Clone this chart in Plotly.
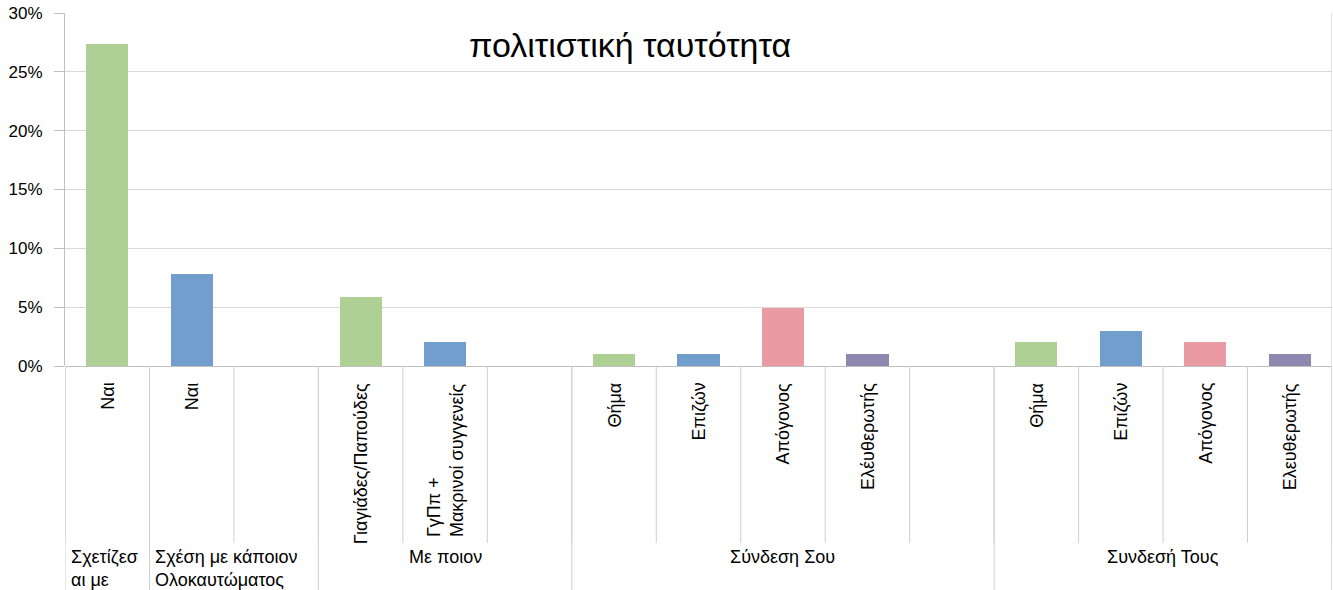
import plotly.graph_objects as go

# ---- data ----
sub_labels = ["Ναι", "Ναι", "", "Γιαγιάδες/Παπούδες", "ΓγΠπ +<br>Μακρινοί συγγενείς", "",
              "Θήμα", "Επιζών", "Απόγονος", "Ελέυθερωτής", "",
              "Θήμα", "Επιζών", "Απόγονος", "Ελευθερωτής"]
values = [27.4, 7.8, None, 5.9, 2.0, None,
          1.0, 1.0, 4.95, 1.0, None,
          2.0, 2.95, 2.0, 1.0]
group_names = ["Σχετίζεσ<br>αι με", "Σχέση με κάποιον<br>Ολοκαυτώματος", "Με ποιον", "Σύνδεση Σου", "Συνδεσή Τους"]
group_sizes = [1, 2, 3, 5, 4]
group_align = ["left", "left", "center", "center", "center"]
bar_colors = ["green", "blue", "green", "green", "blue", "green",
              "green", "blue", "pink", "purple", "green",
              "green", "blue", "pink", "purple"]
palette = {"green": "rgb(174,208,148)", "blue": "rgb(114,158,206)",
           "pink": "rgb(234,154,162)", "purple": "rgb(142,136,176)"}
y_ticks = [0, 5, 10, 15, 20, 25, 30]
title = "πολιτιστική ταυτότητα"

FONT = "Liberation Sans, Arial, sans-serif"
n = len(sub_labels)
xs = [i + 0.5 for i in range(n)]

fig = go.Figure()
fig.add_trace(go.Bar(
    x=xs, y=values, width=0.5,
    marker=dict(color=[palette[c] for c in bar_colors], line=dict(width=0)),
    hoverinfo="skip",
))

PLOT_H = 353.0
sub_y1 = -(543 - 366) / PLOT_H
grp_y1 = -(590 - 366) / PLOT_H
shapes = []
annotations = []

# sub-category separators and labels
for i in range(n + 1):
    shapes.append(dict(type="line", xref="x", yref="paper", x0=i, x1=i, y0=0, y1=sub_y1,
                       line=dict(color="#d0d0d0", width=1)))
for i, lab in enumerate(sub_labels):
    if lab:
        annotations.append(dict(x=xs[i], y=0, xref="x", yref="paper", text=lab,
                                textangle=-90, showarrow=False, xanchor="center", yanchor="top",
                                yshift=-15, font=dict(size=18, color="#000", family=FONT),
                                align="left"))

# group separators and labels
start = 0
bounds = [0]
for g, size in zip(group_names, group_sizes):
    start += size
    bounds.append(start)
for b in bounds:
    shapes.append(dict(type="line", xref="x", yref="paper", x0=b, x1=b, y0=0, y1=grp_y1,
                       line=dict(color="#d0d0d0", width=1)))
for gi, g in enumerate(group_names):
    a, b = bounds[gi], bounds[gi + 1]
    if group_align[gi] == "left":
        annotations.append(dict(x=a, y=0, xref="x", yref="paper", text=g, showarrow=False,
                                xanchor="left", yanchor="top", xshift=4, yshift=-179,
                                align="left", font=dict(size=18, color="#000", family=FONT)))
    else:
        annotations.append(dict(x=(a + b) / 2, y=0, xref="x", yref="paper", text=g, showarrow=False,
                                xanchor="center", yanchor="top", yshift=-179,
                                align="center", font=dict(size=18, color="#000", family=FONT)))

# right border
shapes.append(dict(type="line", xref="x", yref="paper", x0=n, x1=n, y0=1, y1=grp_y1,
                   line=dict(color="#d0d0d0", width=1)))

annotations.append(dict(x=(630 - 65) / 1267, y=1 - (45 - 13) / PLOT_H, xref="paper", yref="paper",
                        text=title, showarrow=False, xanchor="center", yanchor="middle",
                        font=dict(size=34, color="#000", family=FONT)))

fig.update_layout(
    width=1333, height=590,
    margin=dict(l=65, r=1, t=13, b=224, autoexpand=False),
    paper_bgcolor="white", plot_bgcolor="white",
    showlegend=False,
    bargap=0,
    font=dict(family=FONT, size=17, color="#000"),
    xaxis=dict(range=[0, n], showticklabels=False, showgrid=False, zeroline=False,
               showline=False, ticks="", fixedrange=True, automargin=False),
    yaxis=dict(range=[0, 30], tickvals=y_ticks, ticktext=[f"{v}%" for v in y_ticks],
               showgrid=True, gridcolor="#d9d9d9", gridwidth=1,
               zeroline=True, zerolinecolor="#c0c0c0", zerolinewidth=1,
               showline=True, linecolor="#c0c0c0", linewidth=1,
               ticks="outside", ticklen=10, tickcolor="#c0c0c0", automargin=False,
               tickfont=dict(size=17, color="#000", family=FONT), ticklabelstandoff=8),
    shapes=shapes,
    annotations=annotations,
)

fig.write_html("out.html", config={"displayModeBar": False, "staticPlot": True},
               post_script="document.body.style.margin='0';document.body.style.overflow='hidden';")
